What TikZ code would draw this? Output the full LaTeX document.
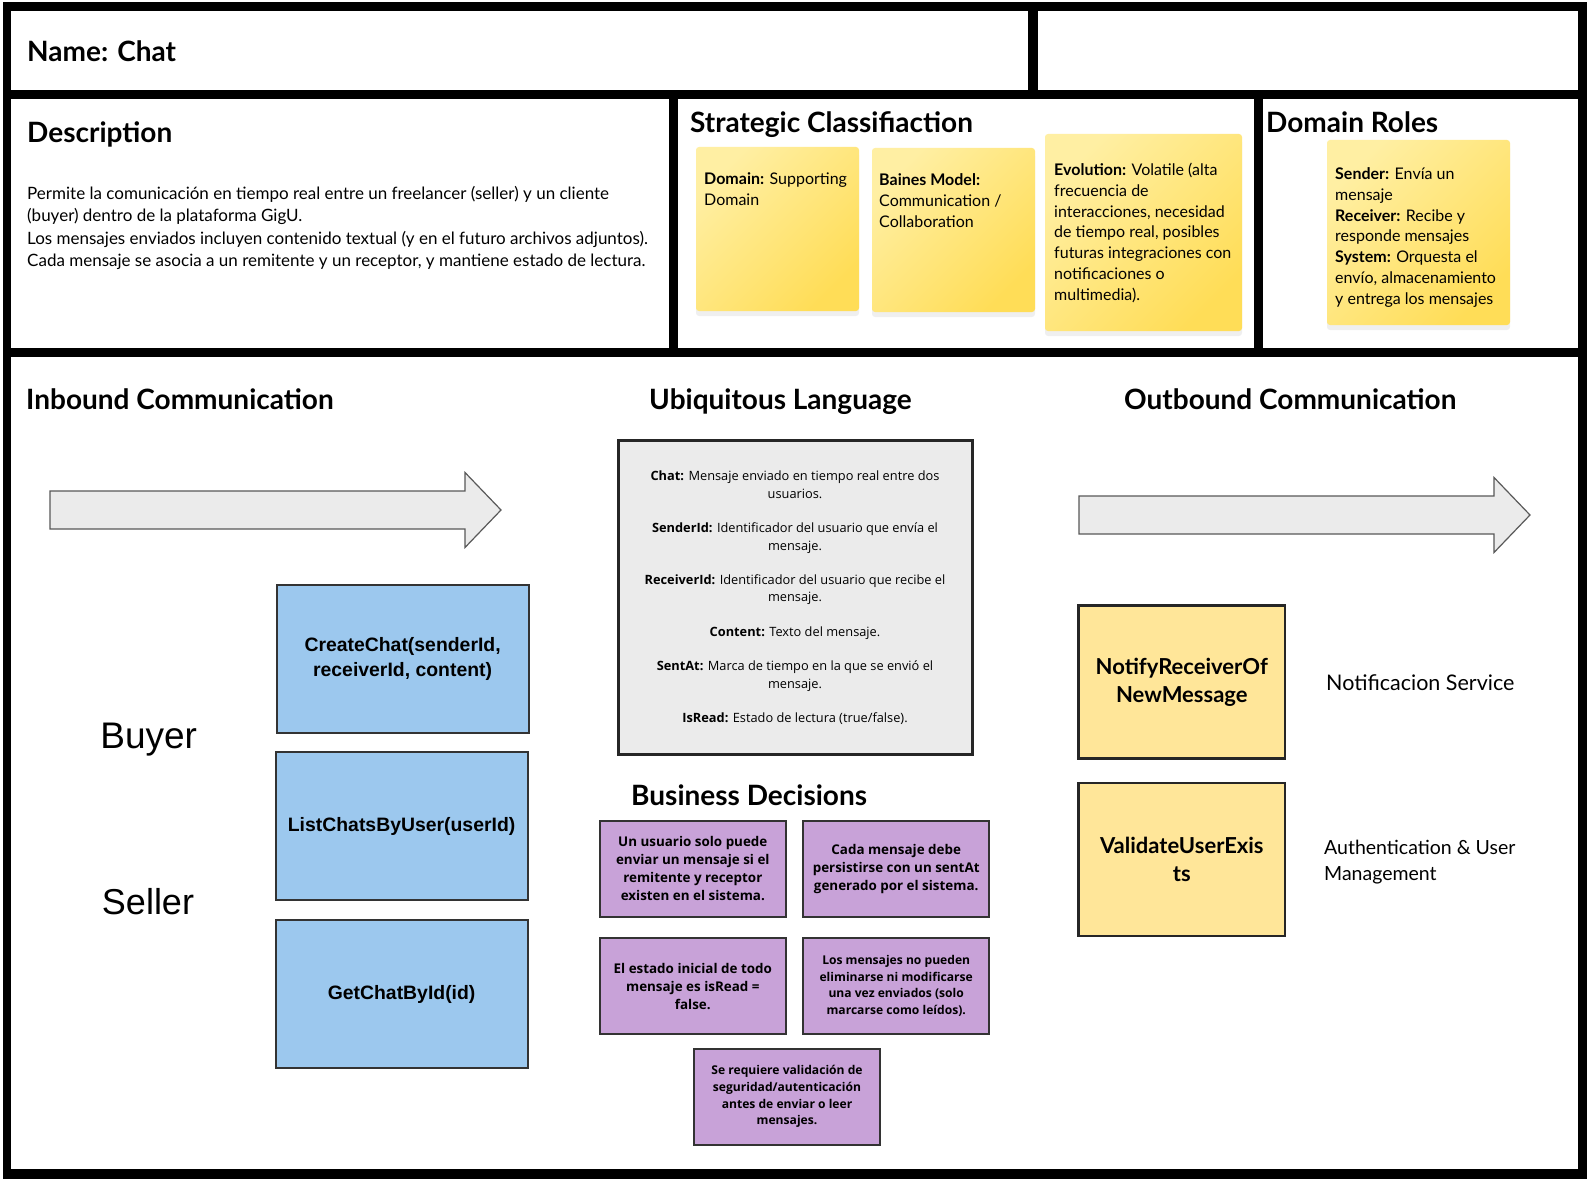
\documentclass[tikz,border=0pt]{standalone}
\usepackage{fontspec}
\setmainfont{Lato}
\newfontfamily\arialfont{Liberation Sans}
\newfontfamily\segoefont{Open Sans}
\usetikzlibrary{shadows}
\usepackage{xcolor}
\definecolor{apiblue}{HTML}{9CC8EE}
\definecolor{rulepurple}{HTML}{C8A2D8}
\definecolor{eventyellow}{HTML}{FFE699}
\definecolor{notetop}{HTML}{FFEFA3}
\definecolor{notebot}{HTML}{FFDD57}
\definecolor{glossgrey}{HTML}{EBEBEB}
\definecolor{edgegrey}{HTML}{595959}
\newcommand{\fsz}[2]{\fontsize{#1}{#2}\selectfont}
\newcommand{\sticky}[5] {
    \node[note,minimum width={#4},minimum height={#5}] (#1) at ({#2}, {#3}) {};
}
\newcommand{\bigarrow}[3] {
    \draw[blockarrow] ({#1}, {#3-19}) -- ({#2-36}, {#3-19}) -- ({#2-36}, {#3-37.5})
        -- ({#2}, {#3}) -- ({#2-36}, {#3+37.5}) -- ({#2-36}, {#3+19}) -- ({#1}, {#3+19}) -- cycle;
}
\tikzset{
    heading/.style={anchor=west,inner sep=0pt,text height=19.8pt,text depth=0pt,
        font=\bfseries\fsz{28}{33}},
    bodytext/.style={anchor=north west,inner sep=0pt,align=left,font=\fsz{17}{22.5}},
    note/.style={
        rounded corners=3pt,
        top color=notetop,
        bottom color=notebot,
        shading angle=45,
        drop shadow={shadow xshift=0pt,shadow yshift=-5pt,opacity=.12}
    },
    notetext/.style={anchor=north west,inner sep=0pt,align=left,font=\fsz{16}{20.8}},
    blockarrow/.style={fill=glossgrey,draw=edgegrey,line width=1.2pt,line join=miter},
    actor/.style={inner sep=0pt,text height=26.6pt,text depth=0pt,font=\arialfont\fsz{37}{40}},
    api/.style={
        draw=black!80,
        line width=2pt,
        fill=apiblue,
        align=center,
        minimum width=252,
        minimum height=148,
        font=\arialfont\bfseries\fsz{19.4}{25.5}
    },
    gloss/.style={
        draw=black!85,
        line width=3pt,
        fill=glossgrey,
        align=center,
        minimum width=354,
        minimum height=314,
        font=\segoefont\fsz{12.8}{17.7}
    },
    rulebox/.style={
        draw=black!80,
        line width=2pt,
        fill=rulepurple,
        align=center,
        minimum width=186.5,
        minimum height=95.6,
        font=\segoefont\bfseries\fsz{13.4}{18}
    },
    smallrule/.style={rulebox,font=\segoefont\bfseries\fsz{12.1}{16.6}},
    event/.style={
        draw=black!85,
        line width=2.5pt,
        fill=eventyellow,
        align=center,
        minimum width=206.4,
        minimum height=153,
        font=\bfseries\fsz{22}{28}
    },
    service/.style={anchor=west,inner sep=0pt,text height=15pt,text depth=0pt,font=\fsz{21.5}{26}}
}

\begin{document}
\begin{tikzpicture}[x=1pt,y=-1pt]
        \useasboundingbox (0,0) rectangle (1588,1180);
        % frame and panels
        \fill[white] (0,0) rectangle (1588,1180);
        \fill[black] (3,2) rectangle (1587,1179);
        \foreach \xa/\ya/\xb/\yb in {
            11/11/1028/90, 1038/11/1578/90,
            11/99/669/348, 678/99/1254/348, 1263/99/1578/348,
            11/357/1578/1169
        }
            \fill[white] (\xa,\ya) rectangle (\xb,\yb);
        % top row
        \node[heading] (name) at (27,52) {Name: Chat};
        \node[heading] (description) at (27,133) {Description};
        \node[bodytext] (desctext) at (27,183.5) {\strut Permite la comunicación en tiempo real entre un freelancer (seller) y un cliente\\(buyer) dentro de la plataforma GigU.\\Los mensajes enviados incluyen contenido textual (y en el futuro archivos adjuntos).\\Cada mensaje se asocia a un remitente y un receptor, y mantiene estado de lectura.};
        % strategic classification
        \node[heading] (strategic) at (690,122.5) {Strategic Classifiaction};
        \sticky{domain}{777.5}{229}{163}{164}
        \sticky{baines}{953.5}{230}{163}{164}
        \sticky{evolution}{1143.5}{232.5}{197}{197}
        \node[notetext] (domaintext) at (704,169.8) {\strut\textbf{Domain:} Supporting\\Domain};
        \node[notetext] (bainestext) at (879,170.8) {\strut\textbf{Baines Model:}\\Communication /\\Collaboration};
        \node[notetext] (evolutiontext) at (1054,160.8) {\strut\textbf{Evolution:} Volatile (alta\\frecuencia de\\interacciones, necesidad\\de tiempo real, posibles\\futuras integraciones con\\notificaciones o\\multimedia).};
        % domain roles
        \node[heading] (roles) at (1266,122.5) {Domain Roles};
        \sticky{rolesnote}{1418.5}{232.5}{183}{185}
        \node[notetext] (rolestext) at (1335,164.8) {\strut\textbf{Sender:} Envía un\\mensaje\\\textbf{Receiver:} Recibe y\\responde mensajes\\\textbf{System:} Orquesta el\\envío, almacenamiento\\y entrega los mensajes};
        % inbound
        \node[heading] (inbound) at (26,400) {Inbound Communication};
        \bigarrow{50}{501}{510}
        \node[actor] (buyer) at (148.7,735) {Buyer};
        \node[actor,font=\arialfont\fsz{36}{40}] (seller) at (148,901) {Seller};
        \node[api] (createchat) at (402.6,659) {CreateChat(senderId,\\receiverId, content)};
        \node[api] (listchats) at (401.6,826.3) {ListChatsByUser(userId)};
        \node[api] (getchat) at (401.6,994) {GetChatById(id)};
        % ubiquitous language
        \node[heading] (ubiquitous) at (649,400) {Ubiquitous Language};
        \node[gloss] (glossary) at (795,597.5) {\textbf{Chat:} Mensaje enviado en tiempo real entre dos\\usuarios.\\[16.5pt]
            \textbf{SenderId:} Identificador del usuario que envía el\\mensaje.\\[16.5pt]
            \textbf{ReceiverId:} Identificador del usuario que recibe el\\mensaje.\\[16.5pt]
            \textbf{Content:} Texto del mensaje.\\[16.5pt]
            \textbf{SentAt:} Marca de tiempo en la que se envió el\\mensaje.\\[16.5pt]
            \textbf{IsRead:} Estado de lectura (true/false).};
        % business decisions
        \node[heading] (business) at (631,796) {Business Decisions};
        \node[rulebox] (rule1) at (692.8,868.8) {Un usuario solo puede\\enviar un mensaje si el\\remitente y receptor\\existen en el sistema.};
        \node[rulebox] (rule2) at (896.2,868.8) {Cada mensaje debe\\persistirse con un sentAt\\generado por el sistema.};
        \node[rulebox] (rule3) at (692.8,986) {El estado inicial de todo\\mensaje es isRead =\\false.};
        \node[smallrule] (rule4) at (896.2,986) {Los mensajes no pueden\\eliminarse ni modificarse\\una vez enviados (solo\\marcarse como leídos).};
        \node[smallrule] (rule5) at (787,1096.7) {Se requiere validación de\\seguridad/autenticación\\antes de enviar o leer\\mensajes.};
        % outbound
        \node[heading] (outbound) at (1124,400) {Outbound Communication};
        \bigarrow{1079}{1530}{515}
        \node[event] (notify) at (1181.8,682) {NotifyReceiverOf\\NewMessage};
        \node[event] (validate) at (1181.8,859.5) {ValidateUserExis\\ts};
        \node[service] (notifsvc) at (1326,682.6) {Notificacion Service};
        \node[notetext,font=\fsz{19.5}{26}] (authsvc) at (1324,836.3) {\strut Authentication \& User\\Management};
    \end{tikzpicture}
\end{document}
